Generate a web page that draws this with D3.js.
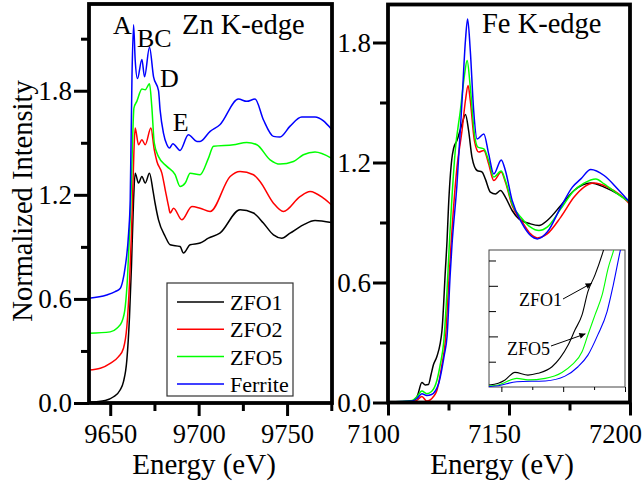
<!DOCTYPE html>
<html><head><meta charset="utf-8">
<script src="https://cdn.jsdelivr.net/npm/d3@7"></script>
<style>body{margin:0;background:#fff}text{font-family:"Liberation Serif","Times New Roman",serif}</style>
</head><body><svg id="c" width="644" height="489"></svg>
<script>
// ---------- data ----------
const seriesNames = ["ZFO1", "ZFO2", "ZFO5", "Ferrite"];
const seriesColors = ["#000000", "#ff0000", "#00ff00", "#0000ff"];

// Zn K-edge (energy eV, normalized intensity)
const znZFO1 = [[9638,0.005],[9647.2,0.015],[9651.9,0.036],[9655.6,0.075],[9657.5,0.123],[9659.4,0.248],[9660.9,0.498],[9662,0.786],[9663.2,1.17],[9664.1,1.325],[9666,1.268],[9667.9,1.306],[9669.8,1.268],[9672.2,1.325],[9674.1,1.229],[9675.4,1.15],[9677.3,1.056],[9681.1,0.96],[9683.9,0.912],[9689.5,0.902],[9691.4,0.864],[9695.2,0.912],[9700.8,0.922],[9705.5,0.95],[9712,0.979],[9723.4,1.114],[9731,1.095],[9736.6,1.037],[9742.3,0.969],[9747,0.95],[9751.7,0.979],[9759.2,1.027],[9765.8,1.052],[9775,1.04]];
const znZFO2 = [[9638,0.19],[9644.4,0.20],[9650,0.229],[9654.7,0.267],[9657.5,0.316],[9659.4,0.44],[9660.9,0.69],[9662,0.979],[9662.6,1.17],[9663.4,1.45],[9664.1,1.585],[9666,1.489],[9667.9,1.517],[9669.8,1.489],[9673,1.585],[9674.9,1.46],[9676.4,1.392],[9679.2,1.325],[9681.1,1.229],[9683,1.133],[9683.9,1.095],[9685.8,1.123],[9690.5,1.056],[9696.2,1.133],[9700.8,1.123],[9706.5,1.104],[9717.8,1.306],[9723.4,1.335],[9731,1.316],[9734.7,1.277],[9742.3,1.152],[9747.9,1.104],[9757.3,1.19],[9763,1.219],[9770.5,1.181],[9775,1.143]];
const znZFO5 = [[9638,0.402],[9650,0.41],[9653.8,0.431],[9656.6,0.469],[9658.5,0.556],[9659.8,0.729],[9660.9,0.979],[9661.7,1.17],[9662.6,1.50],[9663.4,1.70],[9665.1,1.74],[9667.9,1.81],[9669.8,1.806],[9672.2,1.84],[9673.5,1.71],[9674.9,1.50],[9677.3,1.42],[9682,1.364],[9686.7,1.316],[9689.5,1.248],[9692.4,1.268],[9695.2,1.325],[9700.8,1.316],[9705.5,1.41],[9708.4,1.48],[9719.7,1.489],[9727.2,1.502],[9732.9,1.489],[9740.4,1.402],[9746,1.377],[9753.6,1.392],[9759.2,1.431],[9765.8,1.447],[9775,1.412]];
const znFerrite = [[9638,0.604],[9648,0.623],[9652.8,0.642],[9655.6,0.66],[9657,0.70],[9658.5,0.786],[9660.4,0.979],[9661.3,1.17],[9662.3,1.88],[9663.2,2.18],[9664.1,1.98],[9665.4,1.87],[9667.9,1.98],[9669.4,1.88],[9672.2,2.05],[9674.5,1.88],[9677.3,1.80],[9678.2,1.69],[9680.1,1.556],[9682,1.49],[9683.5,1.47],[9685.4,1.495],[9689.5,1.456],[9694.2,1.546],[9699,1.508],[9700.8,1.508],[9706.5,1.566],[9712,1.604],[9722.5,1.752],[9727.2,1.739],[9731.9,1.752],[9736.6,1.633],[9742.3,1.537],[9746,1.533],[9751.7,1.596],[9758.3,1.649],[9765.8,1.649],[9775,1.58]];

// Fe K-edge
const feZFO1 = [[7100,0],[7108,0.003],[7110.5,0.01],[7112.2,0.035],[7114,0.10],[7115.4,0.088],[7116.7,0.09],[7117.8,0.14],[7118.8,0.19],[7120.2,0.23],[7122.3,0.36],[7123.7,0.66],[7124.4,0.81],[7125,0.98],[7126.4,1.22],[7127.1,1.27],[7128.5,1.31],[7130.6,1.393],[7132,1.44],[7133.3,1.36],[7134.7,1.227],[7136.8,1.16],[7138.9,1.152],[7140.2,1.118],[7142.3,1.052],[7144.4,1.043],[7146.5,1.06],[7148.5,1.027],[7151.3,0.96],[7154.1,0.918],[7158.9,0.893],[7162.4,0.885],[7165.8,0.91],[7171.4,0.985],[7176.9,1.06],[7183.8,1.097],[7189.3,1.077],[7194.9,1.043],[7200,1.0]];
const feZFO2 = [[7100,0],[7110,0.003],[7112,0.012],[7114,0.03],[7116,0.007],[7118.8,0.03],[7120.2,0.06],[7122.3,0.19],[7123.7,0.31],[7125,0.577],[7126,0.78],[7128.5,1.177],[7130.6,1.36],[7132,1.51],[7133.1,1.585],[7134,1.51],[7135.7,1.31],[7137.5,1.252],[7139.6,1.26],[7141.6,1.193],[7143.7,1.11],[7146.8,1.152],[7148.5,1.102],[7151.3,0.985],[7155.5,0.902],[7158.9,0.843],[7161.7,0.823],[7165.8,0.843],[7171.4,0.927],[7176.9,1.027],[7181,1.077],[7185.1,1.097],[7190.7,1.077],[7196.3,1.035],[7200,0.99]];
const feZFO5 = [[7100,0.002],[7110,0.01],[7112,0.03],[7114,0.057],[7116,0.044],[7118,0.055],[7120.2,0.11],[7121.6,0.19],[7123,0.30],[7124.4,0.56],[7125.3,0.78],[7127.8,1.26],[7129.9,1.46],[7131.5,1.627],[7132.7,1.71],[7134,1.577],[7135.7,1.343],[7137.1,1.277],[7139.6,1.268],[7141.6,1.21],[7143.7,1.127],[7146.8,1.157],[7148.5,1.11],[7151.3,0.993],[7155.5,0.918],[7158.9,0.877],[7162.4,0.86],[7165.8,0.877],[7171.4,0.968],[7176.9,1.06],[7181,1.097],[7185.9,1.118],[7189.3,1.093],[7194.9,1.043],[7200,1.0]];
const feFerrite = [[7100,0.003],[7110,0.008],[7112,0.02],[7114,0.044],[7116,0.035],[7118,0.04],[7120.9,0.094],[7122.3,0.17],[7123.3,0.24],[7124.4,0.33],[7125.7,0.64],[7126.4,0.78],[7128.5,1.09],[7130.6,1.51],[7132,1.81],[7132.9,1.918],[7134,1.76],[7135.4,1.46],[7136.8,1.318],[7139.6,1.343],[7141.6,1.243],[7143.7,1.143],[7146.8,1.213],[7148.5,1.16],[7151.3,1.01],[7155.5,0.893],[7158.9,0.835],[7161.7,0.818],[7165.8,0.852],[7171.4,0.977],[7176.2,1.077],[7179.7,1.118],[7183.8,1.165],[7189.3,1.135],[7194.9,1.068],[7200,1.0]];

// inset (pre-edge zoom)
const insetZFO1 = [[7108,0.008],[7109.5,0.015],[7110.6,0.028],[7112.2,0.058],[7114.3,0.047],[7115.9,0.054],[7118.2,0.080],[7119.5,0.115],[7120.8,0.166],[7121.9,0.225],[7123.05,0.285],[7124.0,0.377],[7125.15,0.443],[7126.45,0.535],[7127,0.58]];
const insetZFO5 = [[7108,0.004],[7109.5,0.008],[7112.5,0.034],[7114.3,0.028],[7117.1,0.034],[7119.8,0.057],[7121.4,0.087],[7123.05,0.139],[7124.0,0.206],[7125.15,0.285],[7126.3,0.364],[7127.3,0.472],[7128.1,0.535],[7128.6,0.58]];
const insetFerrite = [[7108,0.002],[7109.5,0.005],[7112.5,0.021],[7117.1,0.024],[7120.3,0.043],[7122.4,0.080],[7124.0,0.126],[7125.6,0.206],[7127.1,0.298],[7128.1,0.403],[7129.2,0.535],[7129.6,0.58]];

// ticks
const yMajor = [0, 0.6, 1.2, 1.8];
const yMinorZn = [0.3, 0.9, 1.5, 2.1];
const yMinorFe = [0.3, 0.9, 1.5];
const xMajorZn = [9650, 9700, 9750];
const xMinorZn = [9675, 9725, 9775];
const xMajorFe = [7100, 7150, 7200];
const xMinorFe = [7125, 7175];
const peakLabels = [["A", 9651.6, 2.127], ["BC", 9665.1, 2.05], ["D", 9678.1, 1.82], ["E", 9685.3, 1.57]];

// ---------- drawing ----------
const svg = d3.select("#c");
const FONT = '"Liberation Serif","Times New Roman",serif';
const fmt = d3.format(".1f");

const xZn = d3.scaleLinear([9638, 9775.4], [89, 332]);
const yZn = d3.scaleLinear([0, 2.3], [403, 4]);
const xFe = d3.scaleLinear([7100, 7200], [388, 630]);
const yFe = d3.scaleLinear([0, 1.99], [402.5, 4.5]);
const xIn = d3.scaleLinear([7108, 7130], [489, 625]);
const yIn = d3.scaleLinear([0, 0.5415], [387, 250]);

const defs = svg.append("defs");
function clip(id, x0, y0, x1, y1) {
  defs.append("clipPath").attr("id", id).append("rect")
    .attr("x", x0).attr("y", y0).attr("width", x1 - x0).attr("height", y1 - y0);
}
clip("cz", 89, 4, 332, 403);
clip("cf", 388, 4.5, 630, 402.5);
clip("ci", 489, 250, 625, 387);
defs.append("marker").attr("id", "arr").attr("viewBox", "0 0 10 10")
  .attr("refX", 10).attr("refY", 5).attr("markerWidth", 9).attr("markerHeight", 6)
  .attr("markerUnits", "userSpaceOnUse").attr("orient", "auto")
  .append("path").attr("d", "M0,0L10,5L0,10Z").attr("fill", "#000");

function styleAxis(g, w) {
  g.select(".domain").remove();
  g.selectAll(".tick line").attr("stroke", "#000").attr("stroke-width", w);
  g.selectAll("text").attr("font-family", FONT).attr("fill", "#000");
}

function panel(xs, ys, series, clipId, yMinor, xMajor, xMinor, xLabelDx) {
  const [x0, x1] = xs.range();
  const [y1, y0] = ys.range();
  const line = d3.line().x(d => xs(d[0])).y(d => ys(d[1])).curve(d3.curveMonotoneX);
  const cg = svg.append("g").attr("clip-path", `url(#${clipId})`);
  series.forEach((s, i) => {
    cg.append("path").attr("d", line(s)).attr("fill", "none")
      .attr("stroke", seriesColors[i]).attr("stroke-width", 1.5);
  });
  const ya = svg.append("g").attr("transform", `translate(${x0},0)`)
    .call(d3.axisLeft(ys).tickValues(yMajor).tickFormat(fmt).tickSize(15).tickPadding(2));
  styleAxis(ya, 3);
  ya.selectAll("text").attr("font-size", 27);
  const yb = svg.append("g").attr("transform", `translate(${x0},0)`)
    .call(d3.axisLeft(ys).tickValues(yMinor).tickFormat("").tickSize(8));
  styleAxis(yb, 3);
  const xa = svg.append("g").attr("transform", `translate(0,${y1})`)
    .call(d3.axisBottom(xs).tickValues(xMajor).tickFormat(d3.format("d")).tickSize(13));
  styleAxis(xa, 3);
  xa.selectAll("text").attr("font-size", 26.5).attr("y", 40).attr("dy", 0).attr("dx", xLabelDx);
  const xb = svg.append("g").attr("transform", `translate(0,${y1})`)
    .call(d3.axisBottom(xs).tickValues(xMinor).tickFormat("").tickSize(8));
  styleAxis(xb, 3);
}

function frame(xs, ys) {
  const [x0, x1] = xs.range();
  const [y1, y0] = ys.range();
  svg.append("rect").attr("x", x0).attr("y", y0).attr("width", x1 - x0).attr("height", y1 - y0)
    .attr("fill", "none").attr("stroke", "#000").attr("stroke-width", 3.8);
}

// right (Fe) panel first so the left frame overlaps its labels
panel(xFe, yFe, [feZFO1, feZFO2, feZFO5, feFerrite], "cf", yMinorFe, xMajorFe, xMinorFe, -15);
frame(xFe, yFe);
panel(xZn, yZn, [znZFO1, znZFO2, znZFO5, znFerrite], "cz", yMinorZn, xMajorZn, xMinorZn, 0);
frame(xZn, yZn);

// titles
svg.append("text").attr("x", 182).attr("y", 34).attr("font-size", 28.5).text("Zn K-edge");
svg.append("text").attr("x", 482).attr("y", 33).attr("font-size", 28.5).text("Fe K-edge");
peakLabels.forEach(([t, e, v]) => {
  svg.append("text").attr("x", xZn(e)).attr("y", yZn(v)).attr("font-size", 26).text(t);
});
svg.append("text").attr("x", 204).attr("y", 474).attr("text-anchor", "middle").attr("font-size", 29).text("Energy (eV)");
svg.append("text").attr("x", 502).attr("y", 474).attr("text-anchor", "middle").attr("font-size", 29).text("Energy (eV)");
svg.append("text").attr("transform", "translate(32,201) rotate(-90)").attr("text-anchor", "middle")
  .attr("font-size", 28.5).text("Normalized Intensity");

// legend
const lg = svg.append("g");
lg.append("rect").attr("x", 167).attr("y", 283).attr("width", 126).attr("height", 113)
  .attr("fill", "#fff").attr("stroke", "#333").attr("stroke-width", 1.2);
seriesNames.forEach((n, i) => {
  const y = 302 + i * 27.3;
  lg.append("line").attr("x1", 177).attr("x2", 224).attr("y1", y).attr("y2", y)
    .attr("stroke", seriesColors[i]).attr("stroke-width", 1.5);
  lg.append("text").attr("x", 230).attr("y", y + 8).attr("font-size", 22).text(n);
});

// inset
const ig = svg.append("g");
ig.append("rect").attr("x", 489).attr("y", 250).attr("width", 136).attr("height", 137)
  .attr("fill", "#fff").attr("stroke", "#444").attr("stroke-width", 1);
const iya = ig.append("g").attr("transform", "translate(489,0)")
  .call(d3.axisLeft(yIn).tickValues([0.2, 0.4]).tickFormat("").tickSize(-9));
styleAxis(iya, 1);
const iyb = ig.append("g").attr("transform", "translate(489,0)")
  .call(d3.axisLeft(yIn).tickValues([0.1, 0.3, 0.5]).tickFormat("").tickSize(-7));
styleAxis(iyb, 1);
const ixa = ig.append("g").attr("transform", "translate(0,387)")
  .call(d3.axisBottom(xIn).tickValues([7110, 7120, 7130]).tickFormat("").tickSize(5));
styleAxis(ixa, 1);
const ixb = ig.append("g").attr("transform", "translate(0,387)")
  .call(d3.axisBottom(xIn).tickValues([7115, 7125]).tickFormat("").tickSize(3));
styleAxis(ixb, 1);
const iline = d3.line().x(d => xIn(d[0])).y(d => yIn(d[1])).curve(d3.curveMonotoneX);
const icg = ig.append("g").attr("clip-path", "url(#ci)");
[[insetZFO1, seriesColors[0]], [insetZFO5, seriesColors[2]], [insetFerrite, seriesColors[3]]].forEach(([s, c]) => {
  icg.append("path").attr("d", iline(s)).attr("fill", "none").attr("stroke", c).attr("stroke-width", 1.1);
});
ig.append("text").attr("x", 519).attr("y", 306).attr("font-size", 18).text("ZFO1");
ig.append("line").attr("x1", 563).attr("y1", 299).attr("x2", xIn(7124.6)).attr("y2", yIn(0.41))
  .attr("stroke", "#000").attr("stroke-width", 1).attr("marker-end", "url(#arr)");
ig.append("text").attr("x", 507).attr("y", 355).attr("font-size", 18).text("ZFO5");
ig.append("line").attr("x1", 551).attr("y1", 346).attr("x2", xIn(7123.6)).attr("y2", yIn(0.21))
  .attr("stroke", "#000").attr("stroke-width", 1).attr("marker-end", "url(#arr)");
</script></body></html>
